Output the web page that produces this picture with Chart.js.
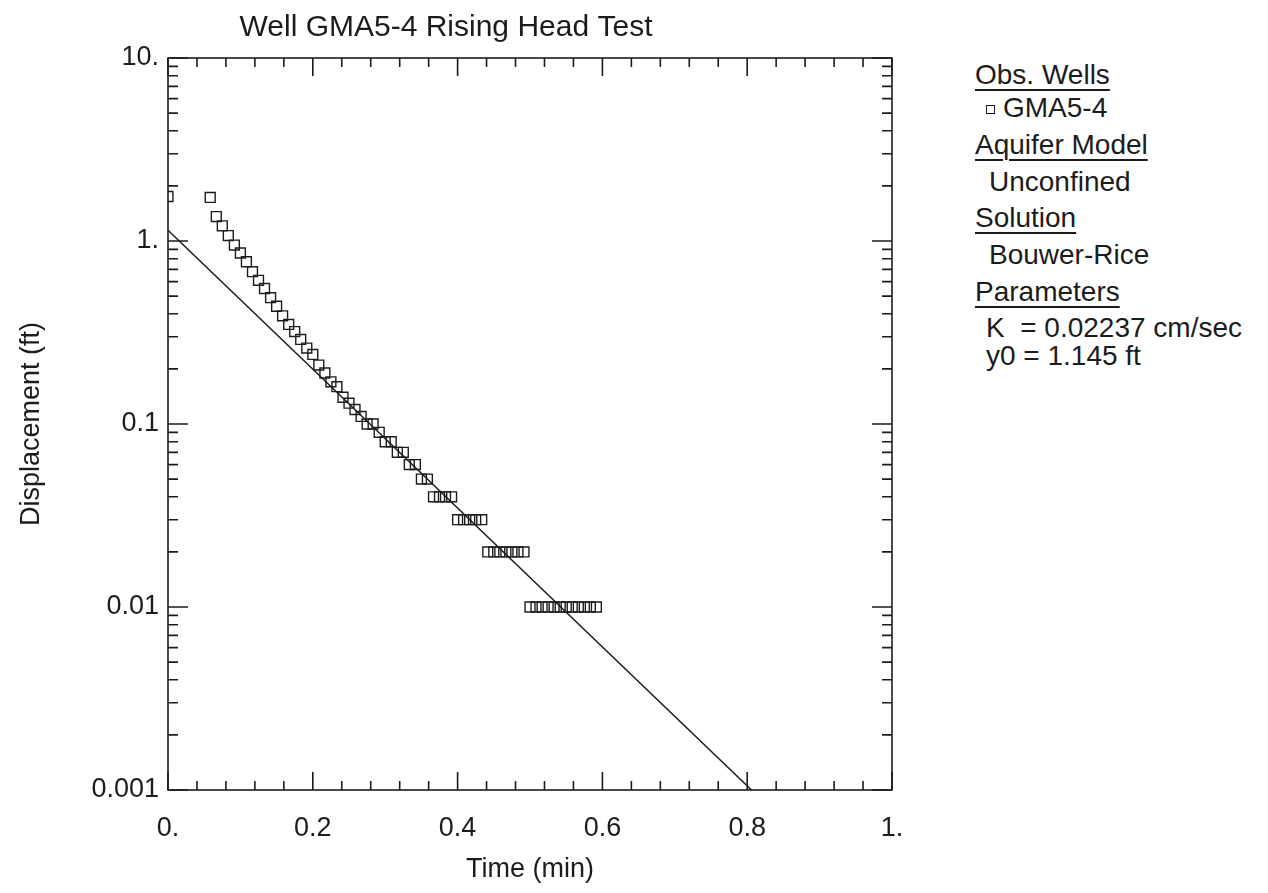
<!DOCTYPE html>
<html><head><meta charset="utf-8">
<script src="https://cdn.jsdelivr.net/npm/chart.js@4"></script>
<style>
html,body{margin:0;padding:0;background:#fff;width:1268px;height:893px;overflow:hidden;font-family:"Liberation Sans",Arial,sans-serif;color:#1c1c1c}
#wrap{position:absolute;left:0;top:0;width:910px;height:893px}
.lg{position:absolute;font-size:28px;line-height:28px;white-space:pre}
.hd{text-decoration:underline;text-decoration-thickness:1.5px;text-underline-offset:5px}
.mk{position:absolute;width:7px;height:7px;border:1.5px solid #1c1c1c}
</style></head><body>
<div id="wrap"><canvas id="c" width="910" height="893"></canvas></div>
<div class="lg hd" style="left:975px;top:61px">Obs. Wells</div>
<div class="mk" style="left:986px;top:105px"></div>
<div class="lg" style="left:1003px;top:94px">GMA5-4</div>
<div class="lg hd" style="left:975px;top:131px">Aquifer Model</div>
<div class="lg" style="left:989px;top:168px">Unconfined</div>
<div class="lg hd" style="left:975px;top:204px">Solution</div>
<div class="lg" style="left:989px;top:241px">Bouwer-Rice</div>
<div class="lg hd" style="left:975px;top:278px">Parameters</div>
<div class="lg" style="left:986px;top:314px">K  = 0.02237 cm/sec</div>
<div class="lg" style="left:986px;top:342px">y0 = 1.145 ft</div>
<script>
// Observed well GMA5-4: time (min) and displacement (ft)
const times = [0, 0.0583, 0.0667, 0.075, 0.0833, 0.0917, 0.1, 0.1083, 0.1167, 0.125, 0.1333,
  0.1417, 0.15, 0.1583, 0.1667, 0.175, 0.1833, 0.1917, 0.2, 0.2083, 0.2167,
  0.225, 0.2333, 0.2417, 0.25, 0.2583, 0.2667, 0.275, 0.2833, 0.2917, 0.3,
  0.3083, 0.3167, 0.325, 0.3333, 0.3417, 0.35, 0.3583, 0.3667, 0.375, 0.3833,
  0.3917, 0.4, 0.4083, 0.4167, 0.425, 0.4333, 0.4417, 0.45, 0.4583, 0.4667,
  0.475, 0.4833, 0.4917, 0.5, 0.5083, 0.5167, 0.525, 0.5333, 0.5417, 0.55,
  0.5583, 0.5667, 0.575, 0.5833, 0.5917];
const displacement = [1.75, 1.73, 1.36, 1.21, 1.07, 0.95, 0.86, 0.77, 0.68, 0.61, 0.55,
  0.49, 0.44, 0.39, 0.35, 0.32, 0.29, 0.26, 0.24, 0.21, 0.19,
  0.17, 0.16, 0.14, 0.13, 0.12, 0.11, 0.10, 0.10, 0.09, 0.08,
  0.08, 0.07, 0.07, 0.06, 0.06, 0.05, 0.05, 0.04, 0.04, 0.04,
  0.04, 0.03, 0.03, 0.03, 0.03, 0.03, 0.02, 0.02, 0.02, 0.02,
  0.02, 0.02, 0.02, 0.01, 0.01, 0.01, 0.01, 0.01, 0.01, 0.01,
  0.01, 0.01, 0.01, 0.01, 0.01];
// Bouwer-Rice fitted line
const fitTime = [0, 0.806];
const fitDisplacement = [1.145, 0.001];
// Axis ticks
const xTickValues = [0, 0.2, 0.4, 0.6, 0.8, 1];
const xTickLabels = ['0.', '0.2', '0.4', '0.6', '0.8', '1.'];
const xMinorTicks = [0.04, 0.08, 0.12, 0.16, 0.24, 0.28, 0.32, 0.36, 0.44, 0.48, 0.52, 0.56,
  0.64, 0.68, 0.72, 0.76, 0.84, 0.88, 0.92, 0.96];
const yTickValues = [0.001, 0.01, 0.1, 1, 10];
const yTickLabels = ['0.001', '0.01', '0.1', '1.', '10.'];
const yMinorFactors = [2, 3, 4, 5, 6, 7, 8, 9];

const INK = '#1c1c1c';
const FONT = {family: '"Liberation Sans", Arial, sans-serif', size: 27, weight: 'normal'};
const TITLE_FONT = {family: '"Liberation Sans", Arial, sans-serif', size: 30, weight: 'normal'};

const framePlugin = {
  id: 'frameTicks',
  afterDatasetsDraw(chart) {
    const {ctx, chartArea: a, scales: {x, y}} = chart;
    ctx.save();
    ctx.strokeStyle = INK;
    ctx.lineWidth = 1.6;
    ctx.strokeRect(a.left, a.top, a.right - a.left, a.bottom - a.top);
    ctx.beginPath();
    const xt = (v, len) => {
      const p = x.getPixelForValue(v);
      ctx.moveTo(p, a.bottom); ctx.lineTo(p, a.bottom - len);
      ctx.moveTo(p, a.top); ctx.lineTo(p, a.top + len);
    };
    const yt = (v, len) => {
      const p = y.getPixelForValue(v);
      ctx.moveTo(a.left, p); ctx.lineTo(a.left + len, p);
      ctx.moveTo(a.right, p); ctx.lineTo(a.right - len, p);
    };
    xTickValues.forEach(v => xt(v, 18));
    xMinorTicks.forEach(v => xt(v, 9));
    yTickValues.forEach(v => yt(v, 20));
    yTickValues.slice(0, -1).forEach(d => yMinorFactors.forEach(f => yt(d * f, 10)));
    ctx.stroke();
    ctx.restore();
  }
};

new Chart(document.getElementById('c'), {
  type: 'scatter',
  data: {
    datasets: [
      {
        label: 'GMA5-4',
        data: times.map((t, i) => ({x: t, y: displacement[i]})),
        pointStyle: 'rect',
        pointRadius: 7,
        pointBorderWidth: 1.4,
        borderColor: INK,
        backgroundColor: 'rgba(0,0,0,0)',
        showLine: false,
        clip: 0
      },
      {
        label: 'Fit',
        data: fitTime.map((t, i) => ({x: t, y: fitDisplacement[i]})),
        showLine: true,
        pointRadius: 0,
        borderColor: INK,
        borderWidth: 1.5,
        clip: 0
      }
    ]
  },
  options: {
    responsive: false,
    animation: false,
    devicePixelRatio: 1,
    layout: {padding: {left: 0, right: 18, top: 0, bottom: 0}},
    plugins: {
      legend: {display: false},
      tooltip: {enabled: false},
      title: {
        display: true,
        text: 'Well GMA5-4 Rising Head Test',
        color: INK,
        font: TITLE_FONT,
        padding: {top: 10, bottom: 12}
      }
    },
    scales: {
      x: {
        type: 'linear', min: 0, max: 1,
        grid: {display: false, drawTicks: false},
        border: {display: false},
        afterBuildTicks: s => { s.ticks = xTickValues.map(v => ({value: v})); },
        ticks: {
          callback: v => xTickLabels[xTickValues.indexOf(v)],
          color: INK, font: FONT, padding: 22, maxRotation: 0, autoSkip: false
        },
        title: {display: true, text: 'Time (min)', color: INK, font: FONT, padding: {top: 0, bottom: 7}},
        afterFit: s => { s.height = 103; s.paddingLeft = 0; s.paddingRight = 0; }
      },
      y: {
        type: 'logarithmic', min: 0.001, max: 10,
        grid: {display: false, drawTicks: false},
        border: {display: false},
        afterBuildTicks: s => { s.ticks = yTickValues.map(v => ({value: v, major: true})); },
        ticks: {
          callback: v => yTickLabels[yTickValues.indexOf(v)],
          color: INK, font: FONT, padding: 9, autoSkip: false
        },
        title: {display: true, text: 'Displacement (ft)', color: INK, font: FONT, padding: {top: 15, bottom: 0}},
        afterFit: s => { s.width = 168; s.paddingTop = 0; s.paddingBottom = 0; }
      }
    }
  },
  plugins: [framePlugin]
});
</script>
</body></html>
